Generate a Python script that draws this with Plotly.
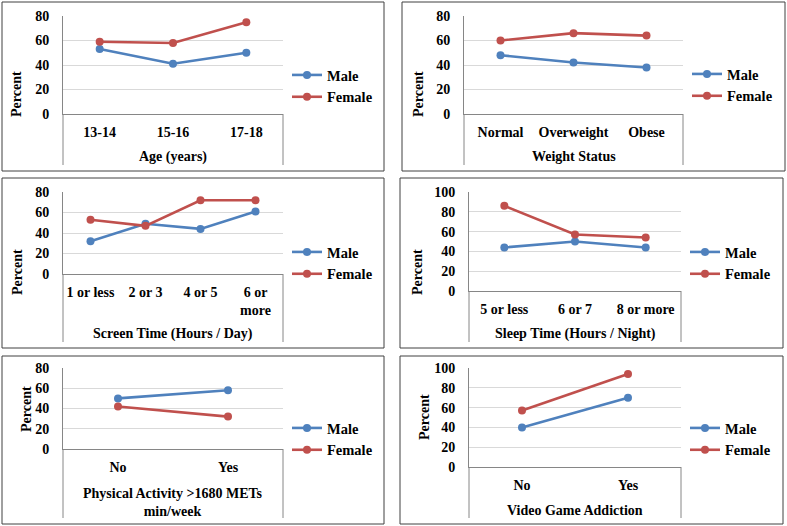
import plotly.graph_objects as go

W, H = 787, 526

# ---------------- data ----------------
age_cats = ["13-14", "15-16", "17-18"]
age_male = [53, 41, 50]
age_female = [59, 58, 75]

weight_cats = ["Normal", "Overweight", "Obese"]
weight_male = [48, 42, 38]
weight_female = [60, 66, 64]

screen_cats = ["1 or less", "2 or 3", "4 or 5", "6 or<br>more"]
screen_male = [32, 49, 44, 61]
screen_female = [53, 47, 72, 72]

sleep_cats = ["5 or less", "6 or 7", "8 or more"]
sleep_male = [44, 50, 44]
sleep_female = [86, 57, 54]

pa_cats = ["No", "Yes"]
pa_male = [50, 58]
pa_female = [42, 32]

vga_cats = ["No", "Yes"]
vga_male = [40, 70]
vga_female = [57, 94]

x_titles = ["Age (years)", "Weight Status", "Screen Time (Hours / Day)",
            "Sleep Time (Hours / Night)", "Physical Activity >1680 METs<br>min/week",
            "Video Game Addiction"]
y_title = "Percent"
y_max = [80, 80, 80, 100, 80, 100]

panels_data = [
    (age_cats, age_male, age_female),
    (weight_cats, weight_male, weight_female),
    (screen_cats, screen_male, screen_female),
    (sleep_cats, sleep_male, sleep_female),
    (pa_cats, pa_male, pa_female),
    (vga_cats, vga_male, vga_female),
]

# ---------------- layout geometry (pixels) ----------------
plot_px = [(63, 283, 16, 114), (464, 683, 16, 114),
           (63, 283, 192, 274), (469, 681, 192, 291),
           (63, 283, 368, 449), (469, 681, 368, 467)]
border_px = [(2, 384, 2, 171), (402, 785, 2, 171),
             (2, 384, 178, 348), (400, 783, 178, 348),
             (2, 384, 356, 524), (400, 783, 356, 524)]
xtitle_pos = [(173, 157), (574, 157), (173, 334), (575, 334), (173, 502), (575, 510)]
ytitle_pos = [(17, 94), (419, 94), (17, 272), (417, 272), (26, 409), (424, 417)]
legend_pos = [(287, 59), (687, 58), (287, 236), (685, 236), (287, 412), (685, 412)]

BLUE = "#4F81BD"
RED = "#C0504D"
FONT = "Liberation Serif, Times New Roman, serif"
AXCOL = "#868686"

def xp(v):
    return v / W

def yp(v):
    return 1 - v / H

fig = go.Figure()
layout = dict(width=W, height=H, autosize=False,
              margin=dict(l=0, r=0, t=0, b=0, pad=0, autoexpand=False),
              paper_bgcolor="white", plot_bgcolor="white",
              font=dict(family=FONT, size=14, color="black"),
              showlegend=True)
shapes = []
annotations = []

for i, (cats, male, female) in enumerate(panels_data):
    n = i + 1
    xa = "x" if n == 1 else f"x{n}"
    ya = "y" if n == 1 else f"y{n}"
    lg = "legend" if n == 1 else f"legend{n}"
    for name, vals, col in (("Male", male, BLUE), ("Female", female, RED)):
        fig.add_trace(go.Scatter(
            x=list(range(len(cats))), y=vals, name=name, mode="lines+markers",
            line=dict(color=col, width=2.6), marker=dict(color=col, size=8),
            xaxis=xa, yaxis=ya, legend=lg, hoverinfo="skip"))
    l, r, t, b = plot_px[i]
    xkey = "xaxis" if n == 1 else f"xaxis{n}"
    ykey = "yaxis" if n == 1 else f"yaxis{n}"
    layout[xkey] = dict(domain=[xp(l), xp(r)], anchor=ya,
                        range=[-0.5, len(cats) - 0.5],
                        tickmode="array", tickvals=list(range(len(cats))), ticktext=cats,
                        showgrid=False, zeroline=False, showline=True,
                        linecolor=AXCOL, linewidth=1, ticks="",
                        ticklabelstandoff=5, automargin=False,
                        tickfont=dict(family=FONT, size=14, weight="bold"))
    layout[ykey] = dict(domain=[yp(b), yp(t)], anchor=xa,
                        range=[0, y_max[i]], dtick=20, tick0=0,
                        showgrid=True, gridcolor="#D9D9D9", gridwidth=1.2,
                        zeroline=False, showline=True, linecolor=AXCOL, linewidth=1,
                        ticks="", ticklabelstandoff=10, automargin=False,
                        tickfont=dict(family=FONT, size=14, weight="bold"))
    bl, br, bt, bb = border_px[i]
    shapes.append(dict(type="rect", xref="paper", yref="paper",
                       x0=xp(bl), x1=xp(br), y0=yp(bb), y1=yp(bt),
                       line=dict(color="#404040", width=1), layer="below"))
    for xx in (l, r):
        shapes.append(dict(type="line", xref="paper", yref="paper",
                           x0=xp(xx), x1=xp(xx), y0=yp(b), y1=yp(bb - 6),
                           line=dict(color=AXCOL, width=1)))
    tx, ty = xtitle_pos[i]
    annotations.append(dict(text=x_titles[i], x=xp(tx), y=yp(ty), xref="paper", yref="paper",
                            showarrow=False, xanchor="center", yanchor="middle",
                            font=dict(family=FONT, size=14, weight="bold")))
    yx, yy = ytitle_pos[i]
    annotations.append(dict(text=y_title, x=xp(yx), y=yp(yy), xref="paper", yref="paper",
                            showarrow=False, xanchor="center", yanchor="middle", textangle=-90,
                            font=dict(family=FONT, size=14, weight="bold")))
    lx, ly = legend_pos[i]
    layout[lg] = dict(x=xp(lx), y=yp(ly), xanchor="left", yanchor="top",
                      bgcolor="rgba(0,0,0,0)", borderwidth=0,
                      font=dict(family=FONT, size=14.5, weight="bold"),
                      traceorder="normal")

layout["shapes"] = shapes
layout["annotations"] = annotations
fig.update_layout(**layout)
fig.write_html("out.html", config={"displayModeBar": False},
               post_script="document.body.style.margin='0';document.body.style.padding='0';")
